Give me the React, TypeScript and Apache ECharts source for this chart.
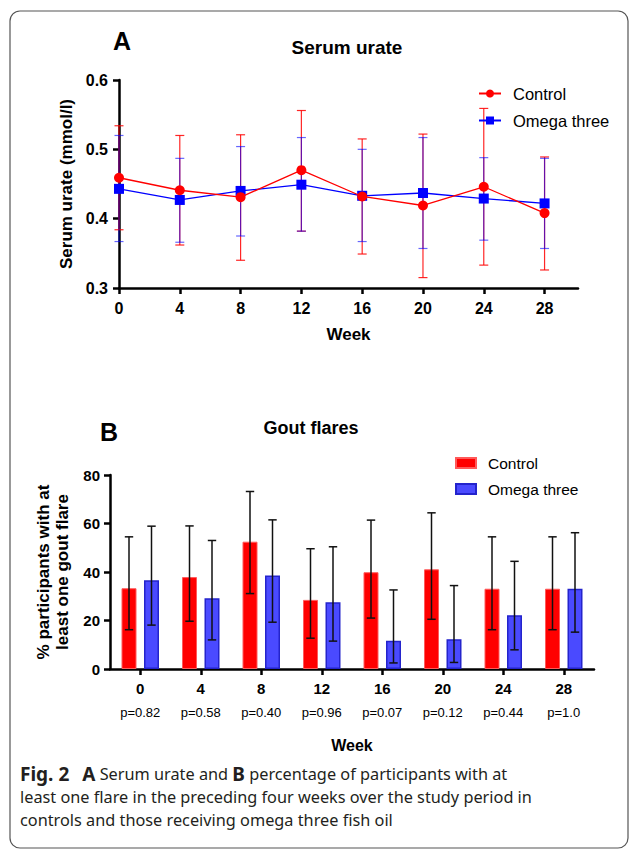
import React, { useEffect, useRef } from "react";
import * as echarts from "echarts";

const weeks = [0, 4, 8, 12, 16, 20, 24, 28];
const weekLabels = ["0", "4", "8", "12", "16", "20", "24", "28"];

const urateControl = [0.459, 0.441, 0.431, 0.47, 0.432, 0.419, 0.446, 0.408];
const urateControlLow = [0.384, 0.362, 0.34, 0.382, 0.349, 0.315, 0.333, 0.326];
const urateControlHigh = [0.534, 0.52, 0.521, 0.556, 0.515, 0.522, 0.559, 0.489];
const urateOmega = [0.443, 0.427, 0.44, 0.449, 0.433, 0.437, 0.429, 0.422];
const urateOmegaLow = [0.367, 0.366, 0.375, 0.382, 0.367, 0.357, 0.369, 0.357];
const urateOmegaHigh = [0.52, 0.487, 0.504, 0.517, 0.5, 0.517, 0.488, 0.487];

const flaresControl = [33.3, 37.9, 52.5, 28.5, 39.9, 41.1, 33.1, 33.1];
const flaresControlLow = [16.2, 19.7, 31.1, 12.7, 21.0, 20.5, 16.2, 16.2];
const flaresControlHigh = [54.5, 59.0, 73.2, 49.6, 61.4, 64.4, 54.5, 54.5];
const flaresOmega = [36.6, 29.2, 38.6, 27.5, 11.6, 12.3, 22.2, 33.1];
const flaresOmegaLow = [18.1, 12.0, 19.3, 11.5, 2.5, 2.7, 7.9, 15.2];
const flaresOmegaHigh = [58.9, 53.0, 61.5, 50.4, 32.6, 34.4, 44.4, 56.2];

const pValues = ["p=0.82", "p=0.58", "p=0.40", "p=0.96", "p=0.07", "p=0.12", "p=0.44", "p=1.0"];

const FONT = "'Liberation Sans', Arial, sans-serif";
const CAPTION_FONT = "'Noto Sans', sans-serif";

function errorBarSeries(
  name: string,
  xAxisIndex: number,
  yAxisIndex: number,
  data: number[][],
  color: string,
  lineWidth: number,
  capHalf: number,
  offsetPx: number,
  z: number
) {
  return {
    type: "custom",
    name,
    xAxisIndex,
    yAxisIndex,
    z,
    silent: true,
    clip: false,
    encode: { x: 0, y: [1, 2] },
    data,
    renderItem: (params: any, api: any) => {
      const x = api.value(0);
      const lo = api.coord([x, api.value(1)]);
      const hi = api.coord([x, api.value(2)]);
      const cx = lo[0] + offsetPx;
      const style = { stroke: color, lineWidth, fill: "none" };
      return {
        type: "group",
        children: [
          { type: "line", shape: { x1: cx, y1: lo[1], x2: cx, y2: hi[1] }, style },
          { type: "line", shape: { x1: cx - capHalf, y1: lo[1], x2: cx + capHalf, y2: lo[1] }, style },
          { type: "line", shape: { x1: cx - capHalf, y1: hi[1], x2: cx + capHalf, y2: hi[1] }, style },
        ],
      };
    },
  };
}

export default function App() {
  const ref = useRef<HTMLDivElement>(null);

  useEffect(() => {
    if (!ref.current) return;
    const chart = echarts.init(ref.current, undefined, { renderer: "svg" });

    const axisLine = { show: true, lineStyle: { color: "#000", width: 2.5 } };
    const axisTick = { show: true, length: 6, lineStyle: { color: "#000", width: 2.5 } };

    const option: any = {
      animation: false,
      backgroundColor: "#fff",
      textStyle: { fontFamily: FONT },
      grid: [
        { left: 119, top: 80, width: 459, height: 208, containLabel: false },
        { left: 110, top: 475, width: 484, height: 194, containLabel: false },
      ],
      xAxis: [
        {
          type: "value",
          gridIndex: 0,
          min: 0,
          max: 30.2,
          axisLine,
          axisTick: { ...axisTick, customValues: weeks },
          splitLine: { show: false },
          axisLabel: {
            customValues: weeks,
            margin: 12,
            color: "#000",
            fontWeight: "bold",
            fontSize: 16,
            fontFamily: FONT,
          },
          name: "Week",
          nameLocation: "middle",
          nameGap: 38,
          nameTextStyle: { color: "#000", fontWeight: "bold", fontSize: 17, fontFamily: FONT },
        },
        {
          type: "category",
          gridIndex: 1,
          data: weekLabels,
          boundaryGap: true,
          axisLine,
          axisTick: { ...axisTick, alignWithLabel: true },
          splitLine: { show: false },
          axisLabel: {
            margin: 7,
            interval: 0,
            formatter: (v: string, i: number) => `{w|${v}}\n{p|${pValues[i]}}`,
            rich: {
              w: { fontWeight: "bold", fontSize: 15, lineHeight: 24, color: "#000", fontFamily: FONT },
              p: { fontSize: 13, lineHeight: 24, color: "#000", fontFamily: FONT },
            },
          },
          name: "Week",
          nameLocation: "middle",
          nameGap: 68,
          nameTextStyle: { color: "#000", fontWeight: "bold", fontSize: 16, fontFamily: FONT },
        },
      ],
      yAxis: [
        {
          type: "value",
          gridIndex: 0,
          min: 0.3,
          max: 0.6,
          interval: 0.1,
          axisLine,
          axisTick,
          splitLine: { show: false },
          axisLabel: {
            margin: 11,
            color: "#000",
            fontWeight: "bold",
            fontSize: 16,
            fontFamily: FONT,
            formatter: (v: number) => v.toFixed(1),
          },
          name: "Serum urate (mmol/l)",
          nameLocation: "middle",
          nameGap: 44,
          nameTextStyle: { color: "#000", fontWeight: "bold", fontSize: 17, fontFamily: FONT },
        },
        {
          type: "value",
          gridIndex: 1,
          min: 0,
          max: 80,
          interval: 20,
          axisLine,
          axisTick,
          splitLine: { show: false },
          axisLabel: {
            margin: 10,
            color: "#000",
            fontWeight: "bold",
            fontSize: 15,
            fontFamily: FONT,
          },
          name: "% participants with at\nleast one gout flare",
          nameLocation: "middle",
          nameGap: 38,
          nameTextStyle: {
            color: "#000",
            fontWeight: "bold",
            fontSize: 17,
            lineHeight: 19,
            fontFamily: FONT,
          },
        },
      ],
      legend: [
        {
          data: ["Control", "Omega three"],
          orient: "vertical",
          left: 478,
          top: 85,
          padding: 0,
          itemWidth: 22,
          itemHeight: 10,
          itemGap: 10,
          selectedMode: false,
          textStyle: { color: "#000", fontSize: 16.5, fontFamily: FONT, padding: [0, 0, 0, 7] },
        },
        {
          data: ["Control ", "Omega three "],
          orient: "vertical",
          left: 455,
          top: 455,
          padding: 0,
          icon: "rect",
          itemWidth: 20,
          itemHeight: 10,
          itemGap: 10,
          selectedMode: false,
          formatter: (n: string) => n.trim(),
          textStyle: { color: "#000", fontSize: 15.5, fontFamily: FONT, padding: [0, 0, 0, 7] },
        },
      ],
      graphic: [
        {
          type: "rect",
          shape: { x: 10, y: 11, width: 618, height: 837, r: 10 },
          style: { fill: "none", stroke: "#555", lineWidth: 1.2 },
          silent: true,
        },
        {
          type: "text",
          x: 122,
          y: 41,
          style: { text: "A", font: `bold 25px ${FONT}`, fill: "#000", textAlign: "center", textVerticalAlign: "middle" },
        },
        {
          type: "text",
          x: 347,
          y: 47,
          style: { text: "Serum urate", font: `bold 19px ${FONT}`, fill: "#000", textAlign: "center", textVerticalAlign: "middle" },
        },
        {
          type: "text",
          x: 109,
          y: 432,
          style: { text: "B", font: `bold 25px ${FONT}`, fill: "#000", textAlign: "center", textVerticalAlign: "middle" },
        },
        {
          type: "text",
          x: 311,
          y: 428,
          style: { text: "Gout flares", font: `bold 18px ${FONT}`, fill: "#000", textAlign: "center", textVerticalAlign: "middle" },
        },
        {
          type: "text",
          x: 20,
          y: 762,
          style: {
            text:
              "{b|Fig. 2}{s| }{b|A} Serum urate and {b|B} percentage of participants with at\nleast one flare in the preceding four weeks over the study period in\ncontrols and those receiving omega three fish oil",
            font: `16.3px ${CAPTION_FONT}`,
            fill: "#231f20",
            lineHeight: 23,
            rich: {
              b: { fontWeight: "bold", fontSize: 19, fontFamily: CAPTION_FONT, fill: "#231f20", lineHeight: 23 },
              s: { width: 13, fontSize: 16, lineHeight: 23 },
            },
          },
        },
      ],
      series: [
        errorBarSeries(
          "ctrlErrA",
          0,
          0,
          weeks.map((w, i) => [w, urateControlLow[i], urateControlHigh[i]]),
          "rgba(255,0,0,0.85)",
          1.2,
          4.5,
          0,
          1
        ),
        errorBarSeries(
          "omegaErrA",
          0,
          0,
          weeks.map((w, i) => [w, urateOmegaLow[i], urateOmegaHigh[i]]),
          "rgba(0,0,255,0.6)",
          1.2,
          4.5,
          0,
          1
        ),
        {
          type: "line",
          name: "Control",
          xAxisIndex: 0,
          yAxisIndex: 0,
          data: weeks.map((w, i) => [w, urateControl[i]]),
          symbol: "circle",
          symbolSize: 10,
          color: "#ff0000",
          lineStyle: { width: 1.3, color: "#ff0000" },
          itemStyle: { color: "#ff0000" },
          z: 4,
        },
        {
          type: "line",
          name: "Omega three",
          xAxisIndex: 0,
          yAxisIndex: 0,
          data: weeks.map((w, i) => [w, urateOmega[i]]),
          symbol: "rect",
          symbolSize: 10,
          color: "#0000ff",
          lineStyle: { width: 1.3, color: "#0000ff" },
          itemStyle: { color: "#0000ff" },
          z: 3,
        },
        {
          type: "bar",
          name: "Control ",
          xAxisIndex: 1,
          yAxisIndex: 1,
          data: flaresControl,
          barWidth: 15,
          barGap: "50%",
          color: "#ff0000",
          itemStyle: { color: "#ff0000", borderColor: "#ff5a5a", borderWidth: 1 },
          z: 2,
        },
        {
          type: "bar",
          name: "Omega three ",
          xAxisIndex: 1,
          yAxisIndex: 1,
          data: flaresOmega,
          barWidth: 15,
          barGap: "50%",
          color: "#4a4aff",
          itemStyle: { color: "#4a4aff", borderColor: "#2424cc", borderWidth: 1.5 },
          z: 2,
        },
        errorBarSeries(
          "ctrlErrB",
          1,
          1,
          weeks.map((w, i) => [i, flaresControlLow[i], flaresControlHigh[i]]),
          "#111",
          1.5,
          4.2,
          -11.25,
          5
        ),
        errorBarSeries(
          "omegaErrB",
          1,
          1,
          weeks.map((w, i) => [i, flaresOmegaLow[i], flaresOmegaHigh[i]]),
          "#111",
          1.5,
          4.2,
          11.25,
          5
        ),
      ],
    };

    chart.setOption(option);
    return () => chart.dispose();
  }, []);

  return (
    <div
      ref={ref}
      style={{ position: "fixed", left: 0, top: 0, width: 630, height: 852, background: "#fff" }}
    />
  );
}
